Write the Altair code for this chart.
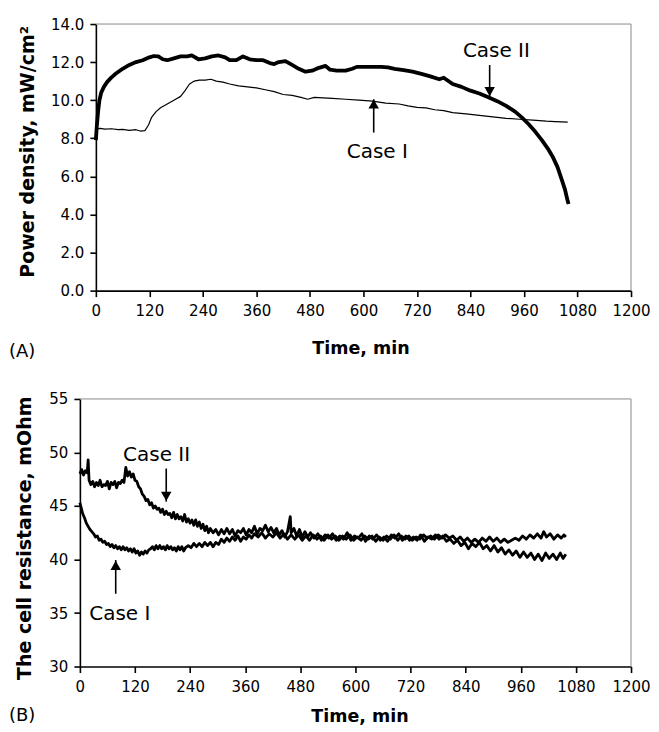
import altair as alt
import pandas as pd

FONT = "DejaVu Sans"

# ---------------- Panel A: power density ----------------
a_case2_t = [0, 2, 5, 8, 12, 18, 25, 35, 45, 60, 75, 90, 105, 120, 130, 140, 150, 160, 175, 190,
             205, 215, 230, 245, 260, 275, 290, 300, 315, 330, 345, 360, 375, 390, 400, 410, 425,
             440, 455, 470, 485, 500, 515, 525, 540, 560, 575, 585, 600, 620, 640, 655, 670, 690,
             710, 730, 750, 770, 780, 800, 820, 840, 860, 880, 900, 920, 940, 955, 970, 985, 1000,
             1015, 1025, 1035, 1045, 1052, 1058, 1060]
a_case2_v = [7.9, 8.6, 9.4, 10.0, 10.4, 10.7, 10.95, 11.2, 11.4, 11.65, 11.85, 12.0, 12.1, 12.25,
             12.32, 12.3, 12.15, 12.1, 12.2, 12.3, 12.3, 12.35, 12.15, 12.2, 12.3, 12.35, 12.25, 12.1,
             12.1, 12.3, 12.15, 12.1, 12.1, 11.95, 11.9, 12.0, 12.05, 11.85, 11.65, 11.5, 11.55, 11.7,
             11.8, 11.6, 11.55, 11.55, 11.65, 11.75, 11.75, 11.75, 11.75, 11.72, 11.65, 11.58, 11.5,
             11.38, 11.25, 11.1, 11.18, 10.85, 10.7, 10.5, 10.35, 10.15, 9.95, 9.7, 9.4, 9.1, 8.75,
             8.35, 7.9, 7.4, 7.0, 6.5, 5.8, 5.3, 4.7, 4.55]

a_case1_t = [0, 10, 20, 35, 50, 60, 75, 90, 100, 110, 118, 125, 135, 145, 160, 175, 190, 200, 210,
             220, 232, 245, 258, 270, 285, 300, 320, 340, 360, 380, 400, 420, 440, 460, 475, 490, 510,
             530, 560, 590, 620, 650, 680, 700, 720, 740, 760, 780, 800, 830, 860, 890, 920, 950, 980,
             1010, 1030, 1058]
a_case1_v = [8.5, 8.52, 8.48, 8.5, 8.45, 8.47, 8.42, 8.45, 8.38, 8.4, 8.7, 9.1, 9.4, 9.6, 9.8, 10.0,
             10.2, 10.5, 10.85, 11.0, 11.05, 11.05, 11.1, 11.0, 10.95, 10.85, 10.75, 10.7, 10.65, 10.55,
             10.45, 10.3, 10.25, 10.15, 10.05, 10.15, 10.12, 10.1, 10.05, 10.0, 9.95, 9.85, 9.8, 9.7,
             9.62, 9.6, 9.5, 9.45, 9.35, 9.28, 9.2, 9.12, 9.05, 9.0, 8.95, 8.9, 8.88, 8.85]

a_labels = ["Case II", "Case I"]
a_label_t = [898, 631]
a_label_v = [12.58, 7.27]
a_arrow_t = [883, 623]
a_arrow_from = [11.85, 8.3]
a_arrow_to = [10.2, 10.05]
a_head_v = [10.45, 9.8]
a_head_shape = ["triangle-down", "triangle-up"]

a_x_ticks = [0, 120, 240, 360, 480, 600, 720, 840, 960, 1080, 1200]
a_y_ticks = [0.0, 2.0, 4.0, 6.0, 8.0, 10.0, 12.0, 14.0]

# ---------------- Panel B: cell resistance ----------------
b_case2_t = [0, 4, 8, 12, 16, 18, 20, 24, 28, 32, 36, 40, 44, 48, 52, 56, 60, 64, 68, 72, 76, 80, 84,
             88, 92, 96, 100, 104, 108, 112, 116, 120, 124, 128, 132, 136, 140, 144, 148, 152, 156,
             160, 164, 168, 172, 176, 180, 184, 188, 192, 196, 200, 204, 208, 212, 216, 220, 224,
             228, 232, 236, 240, 244, 248, 252, 256, 260, 264, 268, 272, 276, 280, 284, 290, 296,
             302, 308, 314, 320, 326, 332, 338, 344, 350, 356, 362, 368, 374, 380, 386, 392, 398,
             404, 410, 416, 422, 428, 434, 440, 446, 452, 458, 460, 466, 472, 478, 484, 490, 496,
             502, 510, 518, 526, 534, 542, 550, 558, 566, 574, 582, 590, 598, 606, 614, 622, 630,
             638, 646, 654, 662, 670, 678, 686, 694, 702, 710, 718, 726, 734, 742, 750, 758, 766,
             774, 782, 790, 798, 806, 814, 822, 830, 838, 846, 854, 862, 870, 878, 886, 894, 902,
             910, 918, 926, 934, 942, 950, 958, 966, 974, 982, 990, 998, 1006, 1014, 1022, 1030,
             1038, 1046, 1052, 1058]
b_case2_v = [48.0, 48.4, 47.9, 48.3, 48.1, 49.3, 47.4, 47.0, 47.3, 46.8, 47.2, 46.9, 47.4, 46.8,
             47.0, 46.9, 47.3, 46.6, 47.2, 47.0, 47.3, 46.7, 47.2, 47.1, 47.4, 47.2, 48.6, 47.8, 48.2,
             47.7, 48.0, 47.4, 47.3, 46.8, 46.6, 46.1, 45.9, 45.5, 45.6, 45.1, 45.3, 44.8, 45.0, 44.7,
             44.8, 44.4, 44.7, 44.2, 44.5, 44.2, 44.3, 43.9, 44.4, 43.8, 44.2, 43.8, 44.0, 43.6, 44.2,
             43.5, 43.8, 43.4, 43.7, 43.2, 43.7, 43.1, 43.5, 42.9, 43.3, 42.7, 43.1, 42.5, 42.9, 42.5,
             42.8, 42.3, 42.8, 42.4, 42.9, 42.4, 42.8, 42.2, 42.7, 42.5, 42.9, 42.3, 42.8, 42.5, 43.1,
             42.4, 42.9, 42.7, 43.2, 42.6, 43.0, 42.5, 42.9, 42.3, 42.7, 42.1, 42.6, 44.0, 42.5, 42.9,
             42.2, 42.8, 42.1, 42.6, 42.1, 42.5, 42.0, 42.4, 41.8, 42.3, 42.0, 42.4, 41.8, 42.2, 41.9,
             42.5, 41.8, 42.2, 42.0, 42.4, 41.7, 42.2, 41.9, 42.3, 41.8, 42.1, 41.7, 42.3, 42.0, 42.4,
             41.8, 42.2, 41.8, 42.1, 41.8, 42.3, 41.7, 42.1, 41.9, 42.3, 41.9, 42.2, 41.7, 41.9, 41.5,
             41.8, 41.3, 41.6, 41.0, 41.5, 41.2, 41.6, 41.0, 41.3, 40.8, 41.3, 40.7, 41.1, 40.5, 40.9,
             40.4, 40.8, 40.2, 40.7, 40.2, 40.6, 40.0, 40.5, 39.9, 40.6, 40.1, 40.5, 40.0, 40.6, 40.1,
             40.5]

b_case1_t = [0, 3, 6, 10, 14, 18, 22, 26, 30, 34, 38, 42, 46, 50, 54, 58, 62, 66, 70, 74, 78, 82, 86,
             90, 94, 98, 102, 106, 110, 114, 118, 122, 126, 130, 134, 138, 142, 146, 150, 154, 158,
             162, 166, 170, 174, 178, 182, 186, 190, 194, 198, 202, 206, 210, 214, 218, 222, 226,
             230, 236, 242, 248, 254, 260, 266, 272, 278, 284, 290, 296, 302, 308, 314, 320, 326,
             332, 338, 344, 350, 356, 362, 368, 374, 380, 388, 396, 404, 412, 420, 428, 436, 444,
             452, 460, 468, 476, 484, 492, 500, 508, 516, 524, 532, 540, 548, 556, 564, 572, 580,
             588, 596, 604, 612, 620, 628, 636, 644, 652, 660, 668, 676, 684, 692, 700, 708, 716,
             724, 732, 740, 748, 756, 764, 772, 780, 788, 796, 804, 812, 820, 828, 836, 844, 852,
             860, 868, 876, 884, 892, 900, 908, 916, 924, 932, 940, 948, 956, 964, 972, 980, 988,
             996, 1004, 1010, 1016, 1024, 1032, 1040, 1048, 1054, 1058]
b_case1_v = [45.3, 44.8, 44.3, 43.9, 43.4, 43.1, 42.8, 42.6, 42.4, 42.1, 42.2, 41.8, 41.9, 41.6, 41.7,
             41.4, 41.5, 41.2, 41.4, 41.1, 41.3, 41.0, 41.2, 40.9, 41.2, 40.9, 41.1, 40.8, 41.0, 40.7,
             41.0, 40.6, 40.8, 40.4, 40.7, 40.5, 40.8, 40.6, 40.9, 41.0, 41.2, 40.9, 41.3, 41.0, 41.3,
             41.0, 41.2, 40.9, 41.3, 41.0, 41.2, 40.9, 41.1, 40.8, 41.2, 40.9, 41.2, 40.8, 41.1, 41.3,
             41.1, 41.5, 41.2, 41.5, 41.2, 41.6, 41.3, 41.6, 41.2, 41.6, 41.4, 41.9, 41.6, 42.0, 41.7,
             42.1, 41.8, 42.2, 41.7, 42.1, 41.9, 42.3, 42.0, 42.4, 42.1, 42.5, 42.0, 42.4, 42.1, 42.5,
             42.0, 42.4, 41.9, 42.3, 41.9, 42.3, 41.8, 42.2, 41.8, 42.3, 41.9, 42.2, 41.8, 42.3, 41.9,
             42.2, 41.8, 42.2, 41.9, 42.3, 41.8, 42.1, 41.8, 42.2, 41.9, 42.2, 41.7, 42.1, 41.8, 42.2,
             41.9, 42.3, 41.8, 42.2, 41.9, 42.2, 41.8, 42.1, 41.9, 42.3, 42.0, 42.2, 41.9, 42.3, 42.0,
             42.3, 42.0, 42.2, 41.8, 42.1, 41.7, 42.0, 41.6, 41.9, 41.6, 42.0, 41.7, 42.1, 41.7, 42.0,
             41.6, 41.9, 41.6, 41.8, 42.0, 41.8, 42.2, 41.9, 42.3, 42.0, 42.4, 42.0, 42.6, 42.1, 42.4,
             41.9, 42.3, 42.0, 42.3, 42.1]

b_labels = ["Case II", "Case I"]
b_label_t = [167, 87]
b_label_v = [49.76, 34.95]
b_arrow_t = [188, 78]
b_arrow_from = [48.5, 36.8]
b_arrow_to = [45.4, 39.95]
b_head_v = [45.9, 39.45]
b_head_shape = ["triangle-down", "triangle-up"]

b_x_ticks = [0, 120, 240, 360, 480, 600, 720, 840, 960, 1080, 1200]
b_y_ticks = [30, 35, 40, 45, 50, 55]

GROUP_W = 552  # both panels share one group width; panel A's plot starts 16px further right


def panel(case2_t, case2_v, case1_t, case1_v, labels, label_t, label_v,
          arrow_t, arrow_from, arrow_to, head_v, head_shape,
          x_ticks, y_ticks, y_domain, y_title, y_format,
          w2, w1, x0, x1, height, tag, tag_y,
          x_title_pad, x_title_x, y_title_pad, y_title_y):
    xs = alt.Scale(domain=[0, 1200], range=[x0, x1], nice=False, zero=False)
    ys = alt.Scale(domain=y_domain, nice=False, zero=False)
    x_axis = alt.Axis(values=x_ticks, title="Time, min", format="d", labelPadding=7,
                      titlePadding=x_title_pad, titleX=x_title_x, labelFlush=False,
                      labelOverlap=False, titleFontSize=17.5)
    y_axis = alt.Axis(values=y_ticks, title=y_title, format=y_format, labelPadding=6,
                      titlePadding=y_title_pad, titleY=y_title_y, labelOverlap=False,
                      labelFlush=False, offset=-x0, titleFontSize=19)

    def X(f):
        return alt.X(f, type="quantitative", scale=xs, axis=x_axis)

    def Y(f):
        return alt.Y(f, type="quantitative", scale=ys, axis=y_axis)

    d2 = pd.DataFrame({"t": case2_t, "v": case2_v})
    d1 = pd.DataFrame({"t": case1_t, "v": case1_v})
    line2 = alt.Chart(d2).mark_line(color="black", strokeWidth=w2, strokeJoin="round").encode(
        x=X("t"), y=Y("v"), order="t:Q")
    line1 = alt.Chart(d1).mark_line(color="black", strokeWidth=w1, strokeJoin="round").encode(
        x=X("t"), y=Y("v"), order="t:Q")
    ann = pd.DataFrame({
        "label": labels, "lt": label_t, "lv": label_v,
        "at": arrow_t, "af": arrow_from, "ato": arrow_to,
        "hv": head_v, "shape": head_shape,
    })
    text = alt.Chart(ann).mark_text(font=FONT, fontSize=20, color="black",
                                    align="center", baseline="middle").encode(
        x=X("lt"), y=Y("lv"), text="label:N")
    shaft = alt.Chart(ann).mark_rule(color="black", strokeWidth=1.6).encode(
        x=X("at"), y=Y("af"), y2="ato:Q")
    head = alt.Chart(ann).mark_point(filled=True, color="black", size=110, opacity=1).encode(
        x=X("at"), y=Y("hv"), shape=alt.Shape("shape:N", scale=None))
    # grey frame on the top and right sides of the plot area
    frame = pd.DataFrame({"k": ["top", "right"]})
    top_edge = alt.Chart(frame.iloc[:1]).mark_rule(color="#8a8a8a", strokeWidth=1).encode(
        x=alt.value(x0), x2=alt.value(x1), y=alt.value(0))
    right_edge = alt.Chart(frame.iloc[1:]).mark_rule(color="#8a8a8a", strokeWidth=1).encode(
        x=alt.value(x1), y=alt.value(0), y2=alt.value(height))
    tagc = alt.Chart(pd.DataFrame({"tag": [tag]})).mark_text(
        font=FONT, fontSize=18, color="black", align="left", baseline="alphabetic").encode(
        x=alt.value(-71), y=alt.value(tag_y), text="tag:N")
    return alt.layer(line1, line2, shaft, head, text, top_edge, right_edge, tagc).properties(
        width=GROUP_W, height=height)


top = panel(a_case2_t, a_case2_v, a_case1_t, a_case1_v, a_labels, a_label_t, a_label_v,
            a_arrow_t, a_arrow_from, a_arrow_to, a_head_v, a_head_shape,
            a_x_ticks, a_y_ticks, [0, 14], "Power density, mW/cm\u00b2", ".1f",
            3.8, 1.2, 16, GROUP_W, 267, "(A)", 333,
            21, 281, 13, 127.5)

bottom = panel(b_case2_t, b_case2_v, b_case1_t, b_case1_v, b_labels, b_label_t, b_label_v,
               b_arrow_t, b_arrow_from, b_arrow_to, b_head_v, b_head_shape,
               b_x_ticks, b_y_ticks, [30, 55], "The cell resistance, mOhm", "d",
               2.8, 2.8, 0, GROUP_W, 268, "(B)", 323,
               13, 280, 14, 139)

chart = alt.vconcat(top, bottom, spacing=29.5).properties(
    padding={"left": 0, "top": 7.5, "right": 0, "bottom": 0}
).configure_view(
    stroke="transparent"
).configure_axis(
    domainColor="black", domainWidth=1.6, tickColor="black", tickWidth=1.6, tickSize=6,
    labelFont=FONT, labelFontSize=15, labelColor="black", labelOverlap=False,
    titleFont=FONT, titleFontWeight="bold", titleColor="black",
    grid=False,
).configure_text(font=FONT)

chart.save("out.html", embed_options={"renderer": "svg", "actions": False})
